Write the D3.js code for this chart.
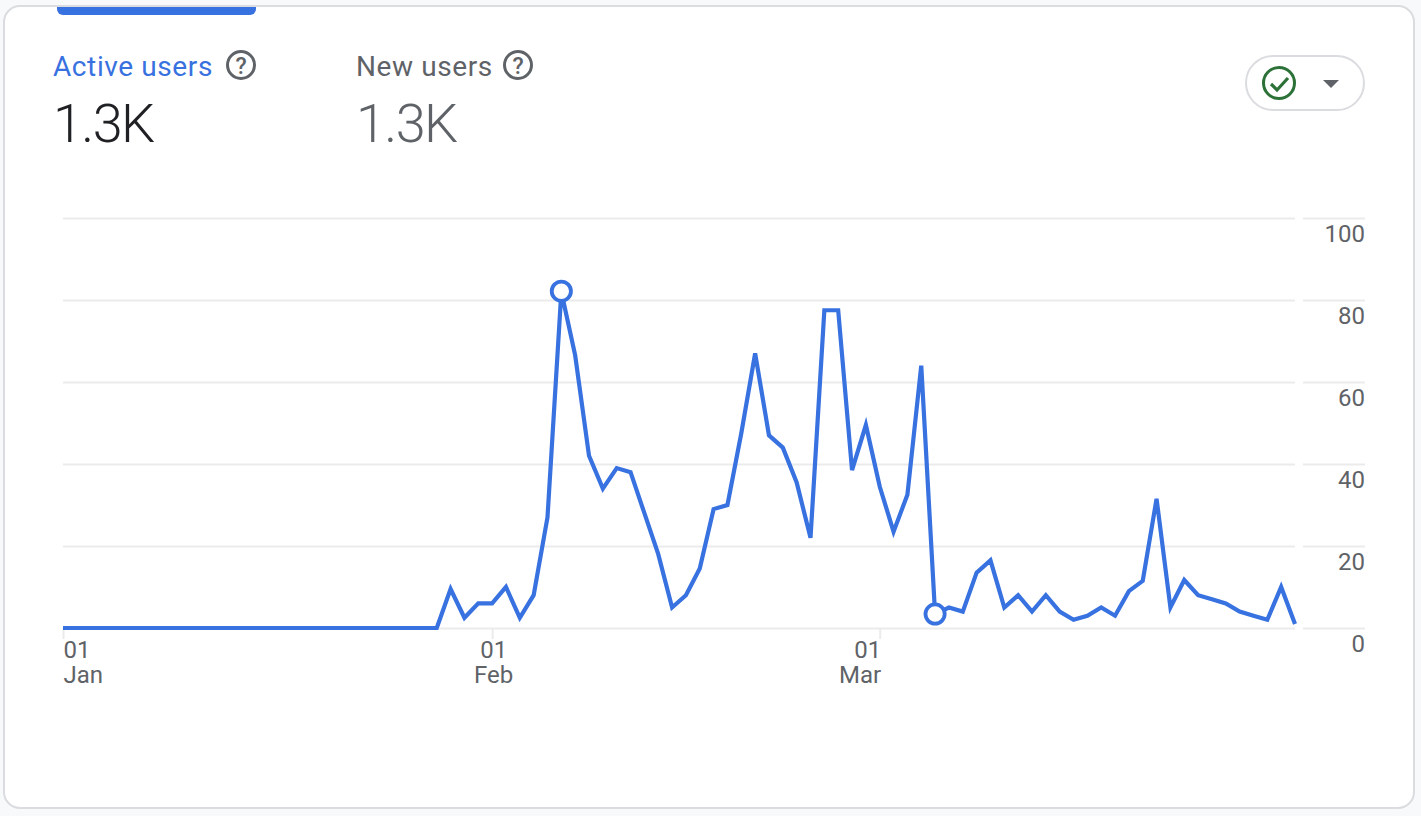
<!DOCTYPE html>
<html><head><meta charset="utf-8">
<script src="https://cdn.jsdelivr.net/npm/d3@7"></script>
<style>
html,body{margin:0;padding:0;background:#f8f9fa;overflow:hidden}
svg{display:block;font-family:Roboto,sans-serif}
</style></head><body><svg id="c" width="1421" height="816"></svg>
<script>
const startDate = "2023-01-01";
const activeUsers = [0,0,0,0,0,0,0,0,0,0,0,0,0,0,0,0,0,0,0,0,0,0,0,0,0,0,0,0,
  9.5,2.5,6,6,10,2.5,8,27,82,66.5,42,34,39,38,28,18,5,8,14.5,29,30,47.5,67,47,44,35.5,22,77.5,77.5,38.5,49.5,34.5,23.5,32.5,64,3.4,5,4,13.5,16.5,5,8,4,8,4,2,3,5,3,9,11.5,31.5,5,11.7,8,7,6,4,3,2,10,1];
const yTicks = [0,20,40,60,80,100];
const xTickDates = ["2023-01-01","2023-02-01","2023-03-01"];
const xTickDays = ["01","01","01"];
const xTickMonths = ["Jan","Feb","Mar"];
const xTickAnchors = ["start","middle","end"];
const markedDays = [36,63];
const metrics = [
  {label:"Active users", value:"1.3K"},
  {label:"New users", value:"1.3K"}
];

const svg = d3.select("#c");
const blue = "#3871e0", grey = "#5f6368", gridC = "#ebebeb";
const parse = d3.utcParse("%Y-%m-%d");
const day0 = parse(startDate);
const dates = activeUsers.map((_,i)=>d3.utcDay.offset(day0,i));

// card
svg.append("rect").attr("x",4).attr("y",6).attr("width",1410).attr("height",802).attr("rx",16)
  .attr("fill","#fff").attr("stroke","#dadce0").attr("stroke-width",2);
svg.append("path").attr("d","M57 7H256V9a6 6 0 0 1 -6 6H63a6 6 0 0 1 -6 -6Z").attr("fill",blue);

// metric headers
const mx = [53,356], helpX=[241,518], lc=[blue,grey], vc=["#202124",grey];
metrics.forEach((m,i)=>{
  svg.append("text").attr("x",mx[i]).attr("y",76).attr("font-size",28).attr("letter-spacing",0.6).attr("fill",lc[i]).text(m.label);
  svg.append("text").attr("x",mx[i]).attr("y",142).attr("font-size",54).attr("font-weight",300).attr("letter-spacing",-1.6).attr("fill",vc[i]).text(m.value);
  svg.append("circle").attr("cx",helpX[i]).attr("cy",65).attr("r",13.5).attr("fill","none").attr("stroke",grey).attr("stroke-width",3);
  svg.append("text").attr("x",helpX[i]).attr("y",74).attr("text-anchor","middle").attr("font-size",23).attr("font-weight",500).attr("fill",grey).text("?");
});

// status pill
svg.append("rect").attr("x",1246).attr("y",56).attr("width",118).attr("height",54).attr("rx",27)
  .attr("fill","#fff").attr("stroke","#dadce0").attr("stroke-width",2);
svg.append("circle").attr("cx",1279).attr("cy",83).attr("r",15.5).attr("fill","none").attr("stroke","#2c7138").attr("stroke-width",3);
svg.append("path").attr("d","M1271 84l6 6 11-12").attr("fill","none").attr("stroke","#2c7138").attr("stroke-width",3.2);
svg.append("path").attr("d","M1323 80h16l-8 8Z").attr("fill",grey);

// scales
const x = d3.scaleUtc().domain([day0, dates[dates.length-1]]).range([63,1295]);
const y = d3.scaleLinear().domain([0,100]).range([628,218]);

// grid + y axis
const gridL = svg.append("g").call(d3.axisRight(y).tickValues(yTicks).tickSize(0).tickFormat(""));
gridL.select(".domain").remove();
gridL.selectAll(".tick").each(function(){
  const t=d3.select(this);
  t.append("line").attr("x1",63).attr("x2",1295).attr("stroke",gridC).attr("stroke-width",2);
  t.append("line").attr("x1",1303).attr("x2",1365).attr("stroke",gridC).attr("stroke-width",2);
});
const yAxis = svg.append("g").attr("transform","translate(1365,0)")
  .call(d3.axisLeft(y).tickValues(yTicks).tickSize(0).tickPadding(0));
yAxis.select(".domain").remove();
yAxis.selectAll("text").attr("font-family","Roboto,sans-serif").attr("font-size",24).attr("fill",grey).attr("dy",null).attr("y",23);

// x axis
const xVals = xTickDates.map(parse);
const xAxis = svg.append("g").attr("transform","translate(0,628)")
  .call(d3.axisBottom(x).tickValues(xVals).tickSize(11).tickFormat(""));
xAxis.select(".domain").remove();
xAxis.selectAll("line").attr("stroke",gridC).attr("stroke-width",2);
xAxis.selectAll(".tick").each(function(d,i){
  const t=d3.select(this);
  t.select("text").remove();
  const lab=t.append("text").attr("font-family","Roboto,sans-serif").attr("font-size",24).attr("fill",grey).attr("text-anchor",xTickAnchors[i]);
  const dx = i===0 ? 0 : 1;
  lab.append("tspan").attr("x",dx).attr("y",30).text(xTickDays[i]);
  lab.append("tspan").attr("x",dx).attr("y",55).text(xTickMonths[i]);
});

// line
const line = d3.line().x((d,i)=>x(dates[i])).y(d=>y(d));
svg.append("path").datum(activeUsers).attr("d",line).attr("fill","none").attr("stroke",blue).attr("stroke-width",4.2).attr("stroke-linejoin","miter");

// markers
svg.selectAll("circle.m").data(markedDays).join("circle").attr("class","m")
  .attr("cx",d=>x(dates[d])).attr("cy",d=>y(activeUsers[d])-(d===36?0.6:0))
  .attr("r",9.6).attr("fill","#fff").attr("stroke",blue).attr("stroke-width",3.8);
</script></body></html>
